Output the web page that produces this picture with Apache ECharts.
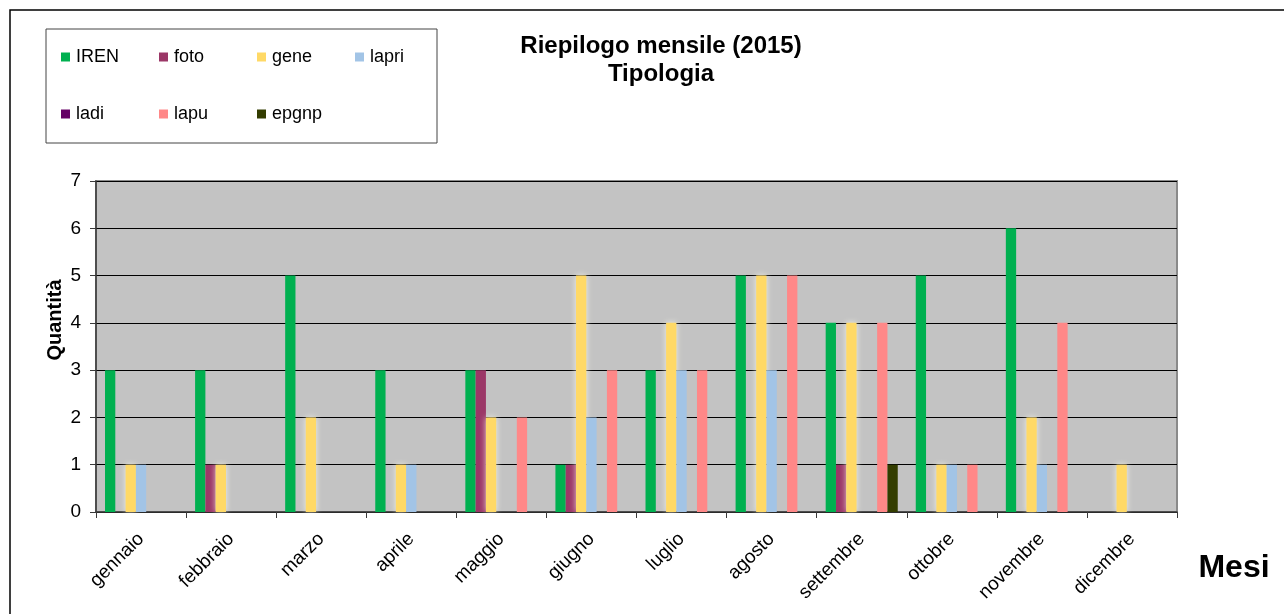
<!DOCTYPE html>
<html>
<head>
<meta charset="utf-8">
<title>Riepilogo mensile (2015)</title>
<script src="https://cdn.jsdelivr.net/npm/echarts@6/dist/echarts.min.js"></script>
<style>
  html, body { margin: 0; padding: 0; background: #ffffff; }
  #chart { width: 1284px; height: 614px; }
</style>
</head>
<body>
<div id="chart"></div>
<script>
// Months on the category axis
const mesi = ['gennaio', 'febbraio', 'marzo', 'aprile', 'maggio', 'giugno',
              'luglio', 'agosto', 'settembre', 'ottobre', 'novembre', 'dicembre'];

// Monthly counts per type
const iren  = [3, 3, 5, 3, 3, 1, 3, 5, 4, 5, 6, 0];
const foto  = [0, 1, 0, 0, 3, 1, 0, 0, 1, 0, 0, 0];
const gene  = [1, 1, 2, 1, 2, 5, 4, 5, 4, 1, 2, 1];
const lapri = [1, 0, 0, 1, 0, 2, 3, 3, 0, 1, 1, 0];
const ladi  = [0, 0, 0, 0, 0, 0, 0, 0, 0, 0, 0, 0];
const lapu  = [0, 0, 0, 0, 2, 3, 3, 5, 4, 1, 4, 0];
const epgnp = [0, 0, 0, 0, 0, 0, 0, 0, 1, 0, 0, 0];

// Y axis ticks
const yTicks = [0, 1, 2, 3, 4, 5, 6, 7];

const serie = [
  { name: 'IREN',  data: iren,  color: '#00B050' },
  { name: 'foto',  data: foto,  color: '#9B3767' },
  { name: 'gene',  data: gene,  color: '#FFD966' },
  { name: 'lapri', data: lapri, color: '#A2C4E6' },
  { name: 'ladi',  data: ladi,  color: '#660066' },
  { name: 'lapu',  data: lapu,  color: '#FF8888' },
  { name: 'epgnp', data: epgnp, color: '#333D00' }
];

const FONT = '"Liberation Sans", Arial, sans-serif';

// Legend slots: two rows inside the framed box
const legendPos = [
  [61, 48], [159, 48], [257, 48], [355, 48],
  [61, 105], [159, 105], [257, 105]
];

const chart = echarts.init(document.getElementById('chart'), null, { renderer: 'canvas' });

chart.setOption({
  animation: false,
  backgroundColor: '#ffffff',
  title: {
    text: 'Riepilogo mensile (2015)\nTipologia',
    left: 656,
    top: 27,
    textAlign: 'center',
    textStyle: {
      fontFamily: FONT,
      fontSize: 24,
      fontWeight: 'bold',
      color: '#000',
      lineHeight: 28
    }
  },
  legend: serie.map((s, i) => ({
    data: [s.name],
    left: legendPos[i][0],
    top: legendPos[i][1],
    icon: 'rect',
    itemWidth: 9,
    itemHeight: 9,
    padding: 0,
    selectedMode: false,
    textStyle: { fontFamily: FONT, fontSize: 18, color: '#000', padding: [0, 0, 0, 1] }
  })),
  grid: {
    left: 96,
    top: 181,
    right: 107,
    bottom: 102,
    show: true,
    backgroundColor: '#C3C3C3',
    borderColor: '#8A8A8A',
    borderWidth: 2
  },
  xAxis: {
    type: 'category',
    data: mesi,
    axisLine: { lineStyle: { color: '#3A3A3A', width: 1.5 } },
    axisTick: { show: true, length: 6, lineStyle: { color: '#3A3A3A' } },
    axisLabel: {
      rotate: 45,
      margin: 24,
      interval: 0,
      fontFamily: FONT,
      fontSize: 19,
      color: '#000'
    }
  },
  yAxis: {
    type: 'value',
    min: yTicks[0],
    max: yTicks[yTicks.length - 1],
    interval: 1,
    axisLine: { show: true, lineStyle: { color: '#3A3A3A', width: 1.5 } },
    axisTick: { show: true, length: 6, inside: false, lineStyle: { color: '#3A3A3A' } },
    axisLabel: {
      margin: 15,
      fontFamily: FONT,
      fontSize: 19,
      color: '#000'
    },
    splitLine: { show: true, lineStyle: { color: '#000', width: 1.2 } }
  },
  series: serie.map(s => ({
    name: s.name,
    type: 'bar',
    data: s.data,
    barGap: '0%',
    barCategoryGap: '20%',
    itemStyle: Object.assign(
      { color: s.color },
      s.name === 'gene'
        ? { shadowBlur: 6, shadowColor: 'rgba(255,255,240,0.75)' }
        : {}
    ),
    emphasis: { disabled: true }
  })),
  graphic: [
    // outer chart frame
    {
      type: 'rect',
      shape: { x: 10, y: 10, width: 1400, height: 800 },
      style: { fill: 'none', stroke: '#000', lineWidth: 1.5 },
      silent: true,
      z: -1
    },
    // legend frame
    {
      type: 'rect',
      shape: { x: 46, y: 29, width: 391, height: 114 },
      style: { fill: 'none', stroke: '#444', lineWidth: 1 },
      silent: true
    },
    {
      type: 'text',
      x: 55,
      y: 320,
      rotation: Math.PI / 2,
      style: {
        text: 'Quantità',
        fontFamily: FONT,
        fontSize: 20,
        fontWeight: 'bold',
        fill: '#000',
        align: 'center',
        verticalAlign: 'middle'
      }
    },
    {
      type: 'text',
      x: 1234,
      y: 568,
      style: {
        text: 'Mesi',
        fontFamily: FONT,
        fontSize: 32,
        fontWeight: 'bold',
        fill: '#000',
        align: 'center',
        verticalAlign: 'middle'
      }
    }
  ]
});
</script>
</body>
</html>
